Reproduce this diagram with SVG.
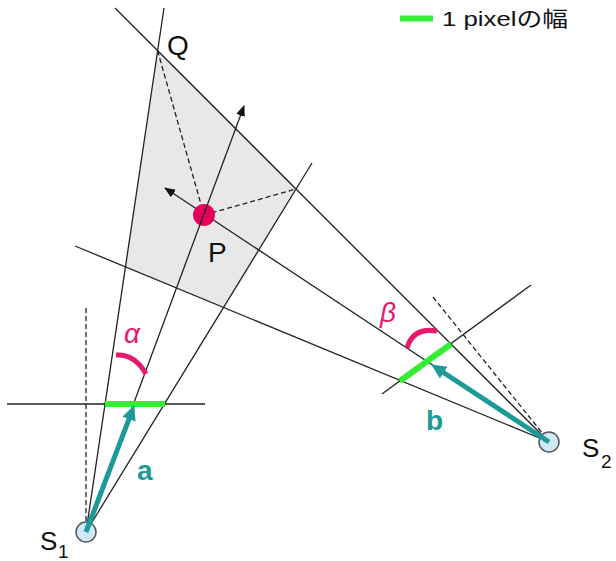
<svg xmlns="http://www.w3.org/2000/svg" width="616" height="561" viewBox="0 0 616 561">
<style>
  .ln{stroke:#222;stroke-width:1.3;fill:none}
  .dash{stroke:#222;stroke-width:1.3;fill:none;stroke-dasharray:5,3}
  .px{stroke:#33ee33;stroke-width:6;fill:none}
  .vec{stroke:#1b9a98;stroke-width:5;fill:none}
  .arc{stroke:#e6196e;stroke-width:5;fill:none}
  .src{fill:#cfe9f8;stroke:#555;stroke-width:1.5}
  .lbl{font-family:"Liberation Sans",Arial,sans-serif;fill:#111}
  .greek{font-family:"Liberation Sans",Arial,sans-serif;font-style:italic;fill:#e6196e;font-size:28px}
  .vlbl{font-family:"Liberation Sans",Arial,sans-serif;font-weight:bold;fill:#1b9a98;font-size:28px}
</style>
<defs>
  <marker id="ah" markerUnits="userSpaceOnUse" markerWidth="12" markerHeight="10" refX="10" refY="4.5" orient="auto">
    <path d="M0,0 L11,4.5 L0,9 z" fill="#111"/>
  </marker>
  <marker id="ahT" markerUnits="userSpaceOnUse" markerWidth="18" markerHeight="16" refX="4" refY="7" orient="auto">
    <path d="M0,0 L15,7 L0,14 z" fill="#1b9a98"/>
  </marker>
</defs>
<rect width="616" height="561" fill="#fff"/>

<g id="overlap-region">
  <polygon points="157.6,50.6 296,189 223.5,307.4 125.5,266.9" fill="#e8e8e8"/>
</g>

<g id="connectors">
  <!-- S2 rays -->
  <line class="ln" x1="115" y1="8" x2="549" y2="442"/>
  <line class="ln" x1="75" y1="246" x2="549" y2="442"/>
  <line class="ln" x1="549" y1="442" x2="165" y2="188" marker-end="url(#ah)"/>
  <line class="dash" x1="433" y1="297" x2="543" y2="434"/>
  <line class="ln" x1="382" y1="394" x2="531" y2="285"/>
  <!-- S1 rays -->
  <line class="ln" x1="86" y1="532" x2="164" y2="8"/>
  <line class="ln" x1="86" y1="532" x2="312" y2="163"/>
  <line class="dash" x1="86" y1="308" x2="86" y2="522"/>
  <line class="ln" x1="7" y1="404" x2="205" y2="404"/>
  <!-- dashed from P -->
  <line class="dash" x1="157.6" y1="50.6" x2="204" y2="215"/>
  <line class="dash" x1="204" y1="215" x2="296" y2="189"/>
</g>

<g id="P">
  <circle cx="204" cy="215" r="11" fill="#e6005c"/>
  <text class="lbl" x="208" y="262" font-size="28">P</text>
</g>

<g id="connectors-top">
  <line class="ln" x1="86" y1="532" x2="244" y2="106" marker-end="url(#ah)"/>
</g>

<g id="Q">
  <text class="lbl" x="167" y="55" font-size="28">Q</text>
</g>

<g id="pixel-widths">
  <line class="px" x1="105" y1="404" x2="165" y2="404"/>
  <line class="px" x1="400" y1="381" x2="451" y2="344"/>
</g>

<g id="S1">
  <circle class="src" cx="86" cy="532" r="10"/>
  <text class="lbl" x="40" y="550" font-size="26">S</text>
  <text class="lbl" x="58" y="558" font-size="19">1</text>
</g>

<g id="S2">
  <circle class="src" cx="549" cy="442" r="10"/>
  <text class="lbl" x="582" y="457" font-size="26">S</text>
  <text class="lbl" x="601" y="468" font-size="19">2</text>
</g>

<g id="vector-a">
  <line class="vec" x1="86" y1="532" x2="130.4" y2="415.4" marker-end="url(#ahT)"/>
  <text class="vlbl" x="137" y="480">a</text>
</g>

<g id="vector-b">
  <line class="vec" x1="549" y1="442" x2="440.4" y2="370.5" marker-end="url(#ahT)"/>
  <text class="vlbl" x="426" y="430">b</text>
</g>

<g id="angle-alpha">
  <path class="arc" d="M116,355 Q135,354 146,374"/>
  <text class="greek" x="124" y="343">α</text>
</g>

<g id="angle-beta">
  <path class="arc" d="M407,348 Q413,327 437,331"/>
  <text class="greek" x="380" y="322">β</text>
</g>

<g id="legend">
  <line class="px" x1="400" y1="18.5" x2="433" y2="18.5"/>
  <text x="442" y="26" font-size="21" textLength="126" lengthAdjust="spacingAndGlyphs" font-family="'Liberation Sans','Noto Sans CJK JP',sans-serif" fill="#111">1 pixelの幅</text>
</g>
</svg>
